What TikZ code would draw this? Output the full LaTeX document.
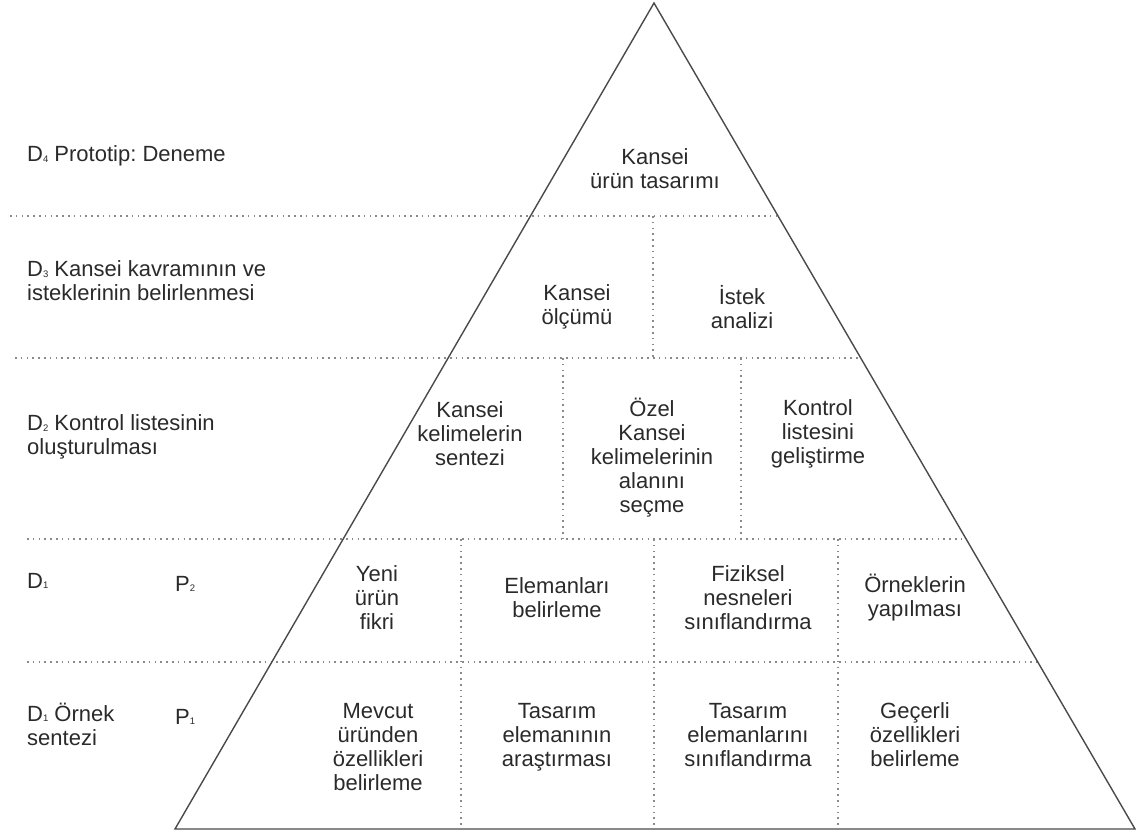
\documentclass[tikz,border=0pt]{standalone}
\usepackage{fontspec}
\setmainfont{Liberation Sans}
\frenchspacing
\definecolor{ink}{HTML}{2A2A2A}
\definecolor{edge}{HTML}{4A4A4A}
\definecolor{dots}{HTML}{8A8A8A}
\newcommand{\lvsub}[1]{\raisebox{-0.6pt}{\fontsize{9.5}{9.5}\selectfont #1}}
\begin{document}
\begin{tikzpicture}[x=1pt,y=-1pt,
  every node/.style={inner sep=0pt,text=ink,font=\fontsize{22}{24}\selectfont},
  cell/.style={align=center,anchor=center},
  lvl/.style={align=left,anchor=west},
  pyr/.style={draw=edge,line width=1.4pt,line join=miter},
  sep/.style={draw=dots,line width=1.6pt,dash pattern=on 1.6pt off 4.2pt}]
\useasboundingbox (0,0) rectangle (1138,836);

% pyramid corners
\coordinate (apex) at (654,3);
\coordinate (bl) at (175,829);
\coordinate (br) at (1135,829);

% horizontal level separators, ending on the right edge
\coordinate (h1s) at (10,216);  \coordinate (h1e) at (778,216);
\coordinate (h2s) at (15,358);  \coordinate (h2e) at (860.7,358);
\coordinate (h3s) at (27,539);  \coordinate (h3e) at (966.1,539);
\coordinate (h4s) at (27,662);  \coordinate (h4e) at (1037.7,662);
\draw[sep] (h1s) -- (h1e);
\draw[sep] (h2s) -- (h2e);
\draw[sep] (h3s) -- (h3e);
\draw[sep] (h4s) -- (h4e);

% vertical cell separators
\coordinate (v1a) at (653,216); \coordinate (v1b) at (653,358);
\coordinate (v2a) at (563,358); \coordinate (v2b) at (563,539);
\coordinate (v3a) at (741,358); \coordinate (v3b) at (741,539);
\coordinate (v4a) at (461,539); \coordinate (v4b) at (461,829);
\coordinate (v5a) at (654,539); \coordinate (v5b) at (654,829);
\coordinate (v6a) at (838,539); \coordinate (v6b) at (838,829);
\draw[sep] (v1a) -- (v1b);
\draw[sep] (v2a) -- (v2b);
\draw[sep] (v3a) -- (v3b);
\draw[sep] (v4a) -- (v4b);
\draw[sep] (v5a) -- (v5b);
\draw[sep] (v6a) -- (v6b);

% pyramid outline
\draw[pyr] (apex) -- (br) -- (bl) -- cycle;

% level labels
\node[lvl] (d4) at (27,156) {D\lvsub{4} Prototip: Deneme};
\node[lvl] (d3) at (27,281) {D\lvsub{3} Kansei kavramının ve\\isteklerinin belirlenmesi};
\node[lvl] (d2) at (27,437) {D\lvsub{2} Kontrol listesinin\\oluşturulması};
\node[lvl] (d1b) at (27,581) {D\lvsub{1}};
\node[lvl] (p2) at (175,584) {P\lvsub{2}};
\node[lvl] (d1a) at (27,724) {D\lvsub{1} Örnek\\sentezi};
\node[lvl] (p1) at (175,717) {P\lvsub{1}};

% D4
\node[cell] (c41) at (655,169) {Kansei\\ürün tasarımı};
% D3
\node[cell] (c31) at (577,307) {Kansei\\ölçümü};
\node[cell] (c32) at (742,307) {İstek\\analizi};
% D2
\node[cell] (c21) at (470,434) {Kansei\\kelimelerin\\sentezi};
\node[cell] (c22) at (652,458) {Özel\\Kansei\\kelimelerinin\\alanını\\seçme};
\node[cell] (c23) at (818,434) {Kontrol\\listesini\\geliştirme};
% P2
\node[cell] (c11) at (377,598) {Yeni\\ürün\\fikri};
\node[cell] (c12) at (557,598) {Elemanları\\belirleme};
\node[cell] (c13) at (748,598) {Fiziksel\\nesneleri\\sınıflandırma};
\node[cell] (c14) at (915,598) {Örneklerin\\yapılması};
% P1
\node[cell] (c01) at (378,747) {Mevcut\\üründen\\özellikleri\\belirleme};
\node[cell] (c02) at (557,737) {Tasarım\\elemanının\\araştırması};
\node[cell] (c03) at (748,735) {Tasarım\\elemanlarını\\sınıflandırma};
\node[cell] (c04) at (915,735) {Geçerli\\özellikleri\\belirleme};
\end{tikzpicture}
\end{document}
